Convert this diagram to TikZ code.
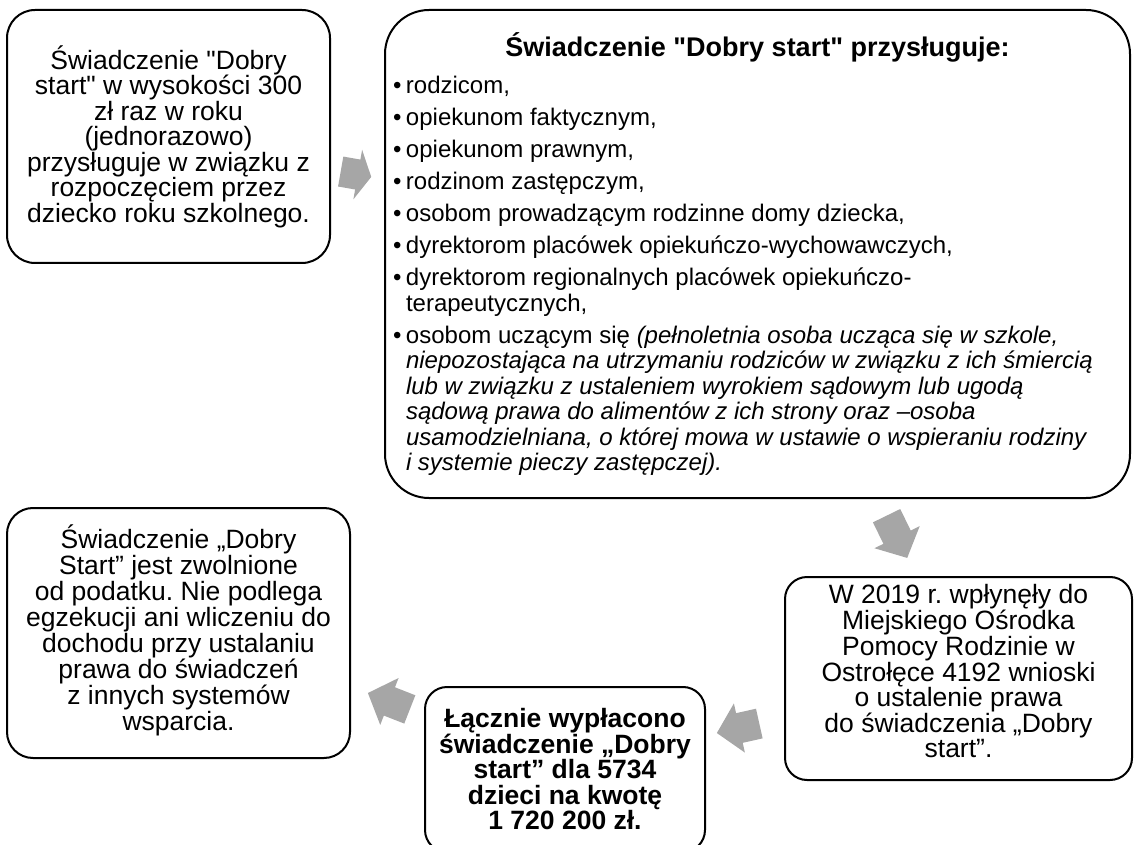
\documentclass[tikz,border=0pt]{standalone}
\usepackage{fontspec}
\setmainfont{Liberation Sans}[Ligatures=TeXOff]
\usetikzlibrary{shapes.arrows}
\definecolor{arrowgray}{RGB}{166,166,166}
\newcommand{\pkt}[1]{\hbox{\makebox[13pt][l]{•}#1}}
\newcommand{\dalej}[1]{\hbox{\hspace*{13pt}#1}}
\newcommand{\odstep}{\vspace{6.5pt}}
\frenchspacing

\begin{document}
\begin{tikzpicture}[x=1pt,y=-1pt,
    box/.style={draw,line width=2pt,inner sep=0pt,
      font=\fontsize{26.5}{25.5}\selectfont},
    txt/.style={box,align=center},
    blk/.style={single arrow,fill=arrowgray,draw=none,inner xsep=0pt,inner ysep=15pt,
      single arrow head extend=10pt,single arrow tip angle=95,anchor=tail}]
  \useasboundingbox (0,0) rectangle (1136,845);
  \node[txt,rounded corners=28pt,minimum width=323pt,minimum height=253pt] (B1) at (168.5,136.5)
    {Świadczenie "Dobry\\start" w wysokości 300\\zł raz w roku\\(jednorazowo)\\przysługuje w związku z\\rozpoczęciem przez\\dziecko roku szkolnego.};
  \node[box,rounded corners=44pt,minimum width=745pt,minimum height=488pt] (B2) at (757.5,254) {\vbox{\hsize=729pt
    \centerline{\fontsize{27}{25}\selectfont\bfseries Świadczenie "Dobry start" przysługuje:}
    \fontsize{24}{25.5}\selectfont
    \vspace{12pt}
    \pkt{rodzicom,}\odstep
    \pkt{opiekunom faktycznym,}\odstep
    \pkt{opiekunom prawnym,}\odstep
    \pkt{rodzinom zastępczym,}\odstep
    \pkt{osobom prowadzącym rodzinne domy dziecka,}\odstep
    \pkt{dyrektorom placówek opiekuńczo-wychowawczych,}\odstep
    \pkt{dyrektorom regionalnych placówek opiekuńczo-}
    \dalej{terapeutycznych,}\odstep
    \pkt{osobom uczącym się \textit{(pełnoletnia osoba ucząca się w szkole,}}
    \dalej{\textit{niepozostająca na utrzymaniu rodziców w związku z ich śmiercią}}
    \dalej{\textit{lub w związku z ustaleniem wyrokiem sądowym lub ugodą}}
    \dalej{\textit{sądową prawa do alimentów z ich strony oraz –osoba}}
    \dalej{\textit{usamodzielniana, o której mowa w ustawie o wspieraniu rodziny}}
    \dalej{\textit{i systemie pieczy zastępczej).}}}};
  \node[txt,font=\fontsize{26.5}{24.5}\selectfont,text depth=15pt,rounded corners=22pt,minimum width=347pt,minimum height=203pt] (B3) at (958.5,678.5)
    {W 2019 r. wpłynęły do\\Miejskiego Ośrodka\\Pomocy Rodzinie w\\Ostrołęce 4192 wnioski\\o ustalenie prawa\\do świadczenia „Dobry\\start”.};
  \node[txt,font=\fontsize{26.5}{25.5}\selectfont\bfseries,rounded corners=22pt,minimum width=280pt,minimum height=165pt] (B4) at (565,769.5)
    {Łącznie wypłacono\\świadczenie „Dobry\\start” dla 5734\\dzieci na kwotę\\1 720 200 zł.};
  \node[txt,font=\fontsize{26.5}{26}\selectfont,text depth=11pt,rounded corners=26pt,minimum width=343pt,minimum height=250pt] (B5) at (178.5,633)
    {Świadczenie „Dobry\\Start” jest zwolnione\\od podatku. Nie podlega\\egzekucji ani wliczeniu do\\dochodu przy ustalaniu\\prawa do świadczeń\\z innych systemów\\wsparcia.};
  \node[blk,rotate=-10,minimum height=31pt,single arrow tip angle=123] (S1) at (340.5,171.5) {};
  \node[blk,rotate=-64,minimum height=47pt] (S2) at (886.5,515.5) {};
  \node[blk,rotate=192.6,minimum height=43.5pt] (S3) at (759.5,723.5) {};
  \node[blk,rotate=158.6,minimum height=45pt] (S4) at (410,709.5) {};
\end{tikzpicture}
\end{document}
